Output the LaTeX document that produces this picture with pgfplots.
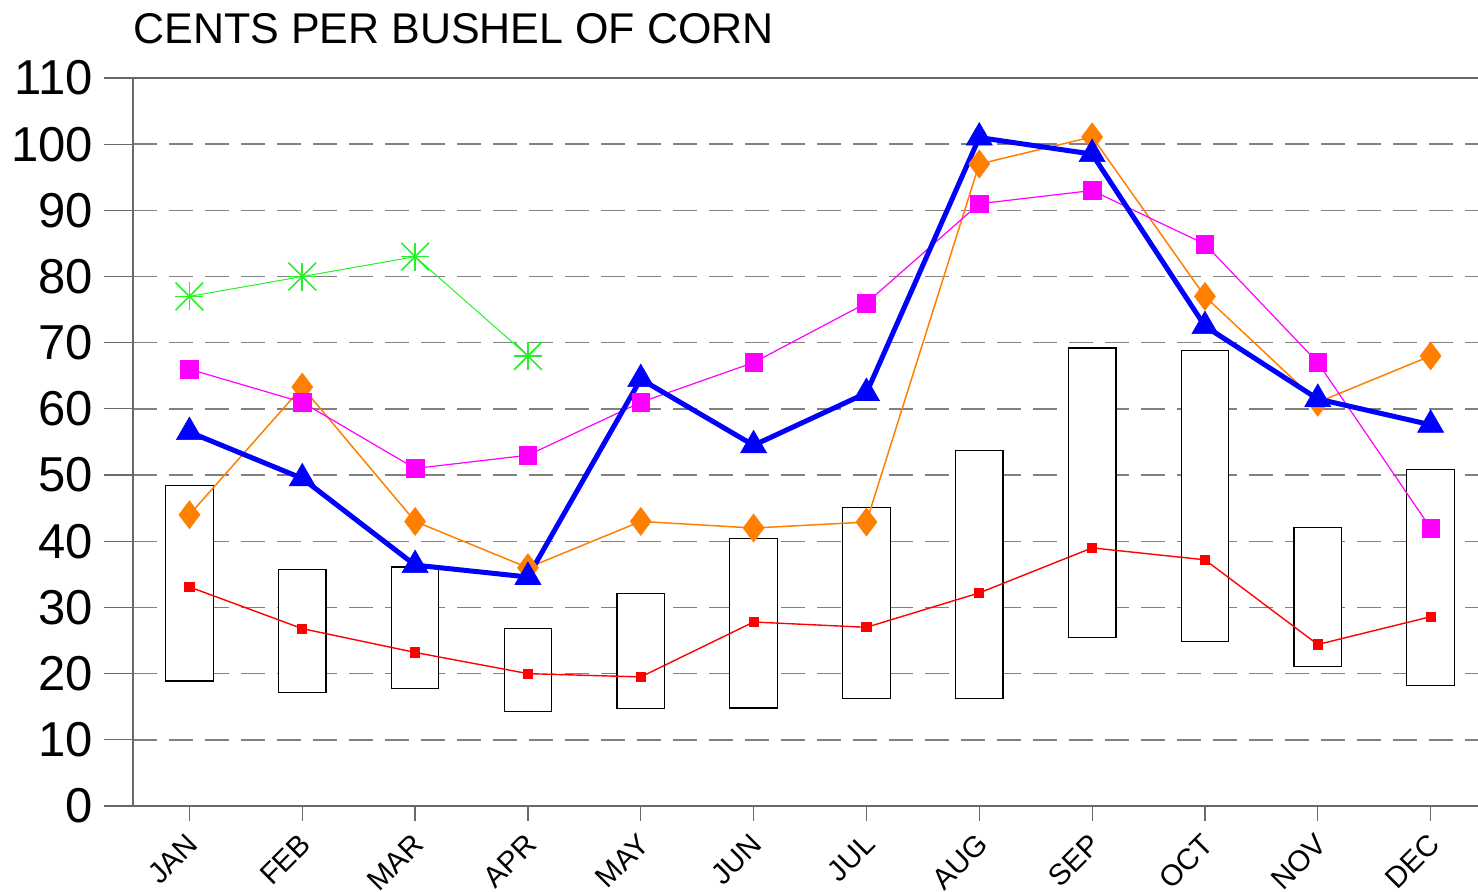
\documentclass[border=0pt]{standalone}
\usepackage{pgfplots}
\pgfplotsset{compat=1.18}
\usepackage{pgfplotstable}
\usepackage{fontspec}
\setmainfont{Liberation Sans}
\definecolor{gridgray}{RGB}{128,128,128}
\definecolor{axgray}{RGB}{105,105,105}
\definecolor{cgreen}{RGB}{40,240,40}
\definecolor{cmag}{RGB}{255,0,255}
\definecolor{corange}{RGB}{255,128,0}
\definecolor{cblue}{RGB}{0,0,255}
\definecolor{cred}{RGB}{255,0,0}

\pgfplotstableread{
m low high
0 18.9 48.4
1 17.2 35.7
2 17.8 36.1
3 14.3 26.8
4 14.7 32.1
5 14.8 40.4
6 16.3 45.1
7 16.3 53.7
8 25.5 69.2
9 24.8 68.8
10 21.1 42.1
11 18.2 50.9
}\boxdata

\pgfplotstableread{
m red mag ora blu
0 33.1 66.0 44.0 56.5
1 26.8 61.0 63.3 49.5
2 23.2 51.0 43.0 36.4
3 20.0 53.0 36.0 34.6
4 19.5 61.0 43.0 64.5
5 27.8 67.0 42.0 54.5
6 27.0 76.0 42.9 62.4
7 32.2 91.0 97.0 101.0
8 39.0 93.0 101.1 98.5
9 37.2 84.9 77.0 72.5
10 24.4 67.0 61.0 61.5
11 28.6 42.0 68.0 57.6
}\linedata

\pgfplotstableread{
m grn
0 77.0
1 80.0
2 83.0
3 68.0
}\greendata

\begin{document}
\begin{tikzpicture}
\useasboundingbox (-66.5pt,-43pt) rectangle (672.5pt,403pt);
\pgfplotsset{base/.style={width=672.5pt,height=364pt,scale only axis,
  xmin=-0.5,xmax=11.42,ymin=0,ymax=110}}
\begin{axis}[base, clip=false,
  axis x line*=bottom, axis y line*=left,
  axis line style={axgray, line width=0.6pt},
  ytick={0,10,...,110}, xtick=\empty,
  tick align=outside, major tick length=14.5pt,
  ytick style={axgray,line width=0.6pt},
  ymajorgrids, grid style={gridgray, line width=0.7pt, dash pattern=on 12pt off 6pt},
  yticklabel style={font=\fontsize{24.5}{24.5}\selectfont, xshift=-2pt},
  /pgf/number format/assume math mode=true,
  ybar stacked, bar width=0.422,
]
\addplot[draw=none, fill=none] table[x=m,y=low]{\boxdata};
\addplot[draw=black, fill=white, line width=0.6pt] table[x=m, y expr=\thisrow{high}-\thisrow{low}]{\boxdata};
\draw[axgray, line width=0.6pt] (rel axis cs:0,1) -- (rel axis cs:1,1);
\node[anchor=base west, font=\fontsize{21.5}{21.5}\selectfont, inner sep=0pt] at (rel axis cs:0,1) [yshift=17pt] {CENTS PER BUSHEL OF CORN};
\end{axis}
\begin{axis}[base, clip=false,
  axis x line*=bottom, axis y line=none,
  axis line style={axgray, line width=0.6pt},
  xtick={0,...,11}, xticklabels={JAN,FEB,MAR,APR,MAY,JUN,JUL,AUG,SEP,OCT,NOV,DEC},
  ytick=\empty,
  tick align=outside, major tick length=7.5pt,
  xtick style={axgray,line width=0.6pt},
  xticklabel style={font=\fontsize{14.7}{14.7}\selectfont, inner sep=0pt, xshift=1.8pt, yshift=-9pt, rotate=45, anchor=east},
]
\addplot[cred, line width=0.7pt, mark=square*, mark size=2.2pt, mark options={solid}] table[x=m,y=red]{\linedata};
\addplot[corange, line width=0.75pt, mark=diamond*, mark size=7pt, mark options={solid, line width=0.3pt}] table[x=m,y=ora]{\linedata};
\addplot[cmag, line width=0.6pt, mark=square*, mark size=4.4pt, mark options={solid, line width=0.3pt}] table[x=m,y=mag]{\linedata};
\addplot[cgreen, line width=0.5pt, mark=+, mark size=7pt, mark options={solid, line width=0.8pt}] table[x=m,y=grn]{\greendata};
\addplot[cgreen, only marks, mark=x, mark size=9.8pt, mark options={solid, line width=0.8pt}] table[x=m,y=grn]{\greendata};
\addplot[cblue, line width=2.5pt, mark=triangle*, mark size=7.5pt, mark options={solid, line width=0.3pt}] table[x=m,y=blu]{\linedata};
\end{axis}
\end{tikzpicture}
\end{document}
